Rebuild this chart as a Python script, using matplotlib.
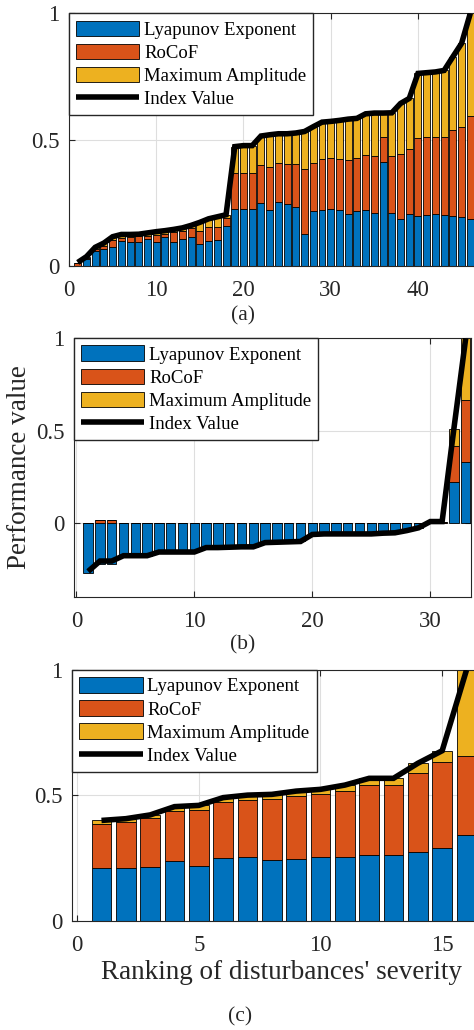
import numpy as np
import matplotlib.pyplot as plt

plt.rcParams['font.family'] = ['Liberation Serif', 'DejaVu Serif']

C_LYAP = '#0072BD'
C_ROCOF = '#D95319'
C_AMP = '#EDB120'
AX_COL = '#262626'

labels = ['Lyapunov Exponent', 'RoCoF', 'Maximum Amplitude', 'Index Value']

# ---- (a) ----
a_lyap = [0.000, 0.025, 0.059, 0.065, 0.073, 0.097, 0.096, 0.094, 0.105, 0.095,
          0.115, 0.095, 0.106, 0.112, 0.085, 0.097, 0.101, 0.159, 0.224, 0.223,
          0.223, 0.247, 0.221, 0.251, 0.245, 0.234, 0.126, 0.217, 0.221, 0.226,
          0.221, 0.204, 0.217, 0.220, 0.209, 0.411, 0.209, 0.184, 0.204, 0.197,
          0.203, 0.204, 0.200, 0.197, 0.193, 0.184]
a_rocof = [0.012, 0.005, 0.006, 0.013, 0.029, 0.012, 0.017, 0.022, 0.013, 0.027,
           0.011, 0.039, 0.033, 0.036, 0.052, 0.058, 0.052, 0.032, 0.142, 0.143,
           0.143, 0.152, 0.169, 0.155, 0.158, 0.168, 0.256, 0.191, 0.201, 0.199,
           0.203, 0.215, 0.211, 0.219, 0.226, 0.100, 0.227, 0.259, 0.257, 0.308,
           0.306, 0.307, 0.311, 0.341, 0.358, 0.409]
a_amp = [0.000, 0.006, 0.008, 0.012, 0.013, 0.015, 0.011, 0.009, 0.012, 0.013,
         0.013, 0.010, 0.011, 0.012, 0.035, 0.031, 0.041, 0.011, 0.106, 0.110,
         0.110, 0.115, 0.129, 0.117, 0.120, 0.124, 0.150, 0.143, 0.147, 0.147,
         0.152, 0.162, 0.156, 0.163, 0.170, 0.094, 0.170, 0.200, 0.202, 0.257,
         0.256, 0.257, 0.263, 0.290, 0.330, 0.407]
a_index = [0.013, 0.036, 0.073, 0.090, 0.115, 0.124, 0.124, 0.125, 0.130, 0.135,
           0.139, 0.144, 0.150, 0.160, 0.172, 0.186, 0.194, 0.202, 0.472, 0.476,
           0.476, 0.514, 0.519, 0.523, 0.523, 0.526, 0.532, 0.551, 0.569, 0.572,
           0.576, 0.581, 0.584, 0.602, 0.605, 0.605, 0.606, 0.643, 0.663, 0.762,
           0.765, 0.768, 0.774, 0.828, 0.881, 1.000]

# ---- (b) ----
b_lyap = [-0.273, -0.223, -0.223, -0.178, -0.178, -0.178, -0.158, -0.158, -0.158, -0.158,
          -0.134, -0.134, -0.132, -0.130, -0.130, -0.107, -0.105, -0.103, -0.101, -0.063,
          -0.060, -0.060, -0.060, -0.060, -0.060, -0.056, -0.054, -0.042, -0.027, 0.002,
          0.000, 0.221, 0.330]
b_rocof = [0.000, 0.016, 0.016, 0.000, 0.000, 0.000, 0.000, 0.000, 0.000, 0.000,
           0.000, 0.000, 0.000, 0.000, 0.000, 0.000, 0.000, 0.000, 0.000, 0.000,
           0.000, 0.000, 0.000, 0.000, 0.000, 0.000, 0.000, 0.000, 0.000, 0.003,
           0.007, 0.196, 0.335]
b_amp = [0.000, 0.000, 0.000, 0.000, 0.000, 0.000, 0.000, 0.000, 0.000, 0.000,
         0.000, 0.000, 0.000, 0.000, 0.000, 0.000, 0.000, 0.000, 0.000, 0.000,
         0.000, 0.000, 0.000, 0.000, 0.000, 0.000, 0.000, 0.000, 0.000, 0.002,
         0.000, 0.094, 0.335]
b_index = [-0.263, -0.207, -0.207, -0.178, -0.178, -0.178, -0.158, -0.158, -0.158, -0.158,
           -0.134, -0.134, -0.132, -0.130, -0.130, -0.107, -0.105, -0.103, -0.101, -0.063,
           -0.060, -0.060, -0.060, -0.060, -0.060, -0.056, -0.054, -0.042, -0.027, 0.007,
           0.007, 0.511, 1.000]

# ---- (c) ----
c_lyap = [0.209, 0.209, 0.213, 0.238, 0.218, 0.251, 0.255, 0.242, 0.246, 0.253,
          0.255, 0.261, 0.261, 0.274, 0.291, 0.342]
c_rocof = [0.177, 0.185, 0.195, 0.201, 0.223, 0.222, 0.226, 0.243, 0.250, 0.252,
           0.262, 0.280, 0.280, 0.314, 0.341, 0.314]
c_amp = [0.014, 0.013, 0.014, 0.016, 0.019, 0.018, 0.020, 0.019, 0.021, 0.019,
         0.024, 0.027, 0.027, 0.040, 0.046, 0.344]
c_index = [0.400, 0.407, 0.422, 0.455, 0.460, 0.491, 0.501, 0.504, 0.517, 0.524,
           0.541, 0.568, 0.568, 0.628, 0.678, 1.000]


def stacked(ax, comps, index):
    # stack positives upward and negatives downward, like MATLAB bar 'stacked'
    n = len(index)
    x = np.arange(1, n + 1)
    pos = np.zeros(n)
    neg = np.zeros(n)
    handles = []
    for vals, col in zip(comps, [C_LYAP, C_ROCOF, C_AMP]):
        v = np.asarray(vals, dtype=float)
        bottom = np.where(v >= 0, pos, neg)
        h = ax.bar(x, v, 0.8, bottom=bottom, color=col, edgecolor='black',
                   linewidth=0.6, zorder=2)
        pos = pos + np.where(v >= 0, v, 0)
        neg = neg + np.where(v < 0, v, 0)
        handles.append(h)
    ln, = ax.plot(x, index, color='black', lw=4, zorder=3,
                  solid_joinstyle='miter', solid_capstyle='butt')
    handles.append(ln)
    ax.legend(handles, labels, loc='upper left', borderaxespad=0, fontsize=13.5,
              fancybox=False, framealpha=1, edgecolor=AX_COL,
              handlelength=3.37, handleheight=0.9, handletextpad=0.25,
              borderpad=0.38, labelspacing=0.26)


def style(ax):
    ax.grid(True, color='#dedede', lw=0.8)
    ax.set_axisbelow(True)
    for s in ax.spines.values():
        s.set_color(AX_COL)
        s.set_linewidth(0.8)
    ax.tick_params(direction='in', top=True, right=True, length=4, width=0.8,
                   labelsize=16.5, color=AX_COL, labelcolor=AX_COL, pad=10)
    ax.tick_params(axis='y', pad=7)


fig = plt.figure(figsize=(4.74, 10.30), dpi=100)

ax1 = fig.add_axes([0.1456, 0.742, 0.865, 0.2450])
stacked(ax1, [a_lyap, a_rocof, a_amp], a_index)
ax1.set_xlim(0, 47)
ax1.set_ylim(0, 1)
ax1.set_xticks([0, 10, 20, 30, 40])
ax1.set_yticks([0, 0.5, 1], ['0', '0.5', '1'])
style(ax1)

ax2 = fig.add_axes([0.1561, 0.4207, 0.8376, 0.2509])
stacked(ax2, [b_lyap, b_rocof, b_amp], b_index)
ax2.set_xlim(-0.2, 33.45)
ax2.set_ylim(-0.4, 1)
ax2.set_xticks([0, 10, 20, 30])
ax2.set_yticks([0, 0.5, 1], ['0', '0.5', '1'])
style(ax2)
ax2.set_ylabel('Performance value', fontsize=19.5, color=AX_COL)
ax2.yaxis.label.set_verticalalignment('center')
ax2.yaxis.set_label_coords(-0.136, 0.5)

ax3 = fig.add_axes([0.1525, 0.1061, 0.883, 0.2434])
stacked(ax3, [c_lyap, c_rocof, c_amp], c_index)
ax3.set_xlim(-0.2, 17)
ax3.set_ylim(0, 1)
ax3.set_xticks([0, 5, 10, 15])
ax3.set_yticks([0, 0.5, 1], ['0', '0.5', '1'])
style(ax3)
ax3.set_xlabel("Ranking of disturbances' severity", fontsize=19.5, color=AX_COL, labelpad=3)

fig.text(243 / 474, 1 - 316 / 1030, '(a)', ha='center', va='center', fontsize=15.5, color=AX_COL)
fig.text(243 / 474, 1 - 645 / 1030, '(b)', ha='center', va='center', fontsize=15.5, color=AX_COL)
fig.text(240 / 474, 1 - 1017 / 1030, '(c)', ha='center', va='center', fontsize=15.5, color=AX_COL)

fig.savefig('out.png', dpi=100)
